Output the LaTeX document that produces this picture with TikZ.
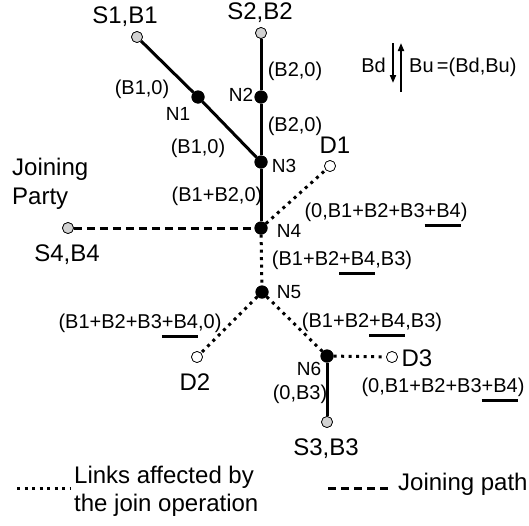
\documentclass[tikz,border=0pt]{standalone}
\usepackage{fontspec}
\setmainfont{Liberation Sans}
\usetikzlibrary{arrows.meta}
\newcommand\ulbar[1]{\setbox0\hbox{#1}\rlap{\rule[-10pt]{\wd0}{3.5pt}}\box0}
\tikzset{
  dotn/.style={circle,fill=black,inner sep=0pt,minimum size=13pt},
  srcn/.style={circle,draw,fill=gray!35,inner sep=0pt,minimum size=11pt,line width=0.7pt},
  dstn/.style={circle,draw,fill=white,inner sep=0pt,minimum size=11pt,line width=0.7pt},
  thk/.style={line width=3pt},
  dsh/.style={line width=3pt,dash pattern=on 8pt off 5pt},
  dtd/.style={line width=3pt,dash pattern=on 3pt off 4.5pt},
  lbl/.style={anchor=base,inner sep=0pt,font=\fontsize{20}{24}\selectfont},
  nlbl/.style={anchor=base,inner sep=0pt,font=\fontsize{19}{23}\selectfont},
  big/.style={anchor=base,inner sep=0pt,font=\fontsize{24}{28}\selectfont},
  arr/.style={line width=1.8pt,-{Triangle[length=8pt,width=6pt]}}
}
\begin{document}
\begin{tikzpicture}[x=1pt,y=-1pt]
\useasboundingbox[fill=white] (0,0) rectangle (529,525);
% nodes
\node[srcn] (S1) at (137,37) {};
\node[srcn] (S2) at (261,33) {};
\node[dotn] (N1) at (198,97) {};
\node[dotn] (N2) at (261,97) {};
\node[dotn] (N3) at (261,162) {};
\node[dotn] (N4) at (261,228) {};
\node[srcn] (S4) at (68,228) {};
\node[dstn] (D1) at (330,166) {};
\node[dotn] (N5) at (262,292) {};
\node[dotn] (N6) at (327,356) {};
\node[dstn] (D3) at (392,357) {};
\node[srcn] (S3) at (327,422) {};
\node[dstn] (D2) at (197,357) {};
% connectors
\draw[thk] (S1) -- (N1) -- (N3);
\draw[thk] (S2) -- (N2) -- (N3) -- (N4);
\draw[dsh] (S4) -- (N4);
\draw[dtd] (N4) -- (D1);
\draw[dtd] (N4) -- (N5);
\draw[dtd] (N5) -- (D2);
\draw[dtd] (N5) -- (N6);
\draw[dtd] (N6) -- (D3);
\draw[thk] (N6) -- (S3);
% redraw dots on top
\foreach \n in {N1,N2,N3,N4,N5,N6}{\fill (\n) circle (6.5pt);}
\foreach \n in {S1,S2,S3,S4}{\filldraw[fill=gray!35,line width=0.7pt] (\n) circle (5.5pt);}
\foreach \n in {D1,D2,D3}{\filldraw[fill=white,line width=0.7pt] (\n) circle (5.5pt);}
% labels
\node[big] (tS1) at (125,23) {S1,B1};
\node[big] (tS2) at (260,19) {S2,B2};
\node[lbl] (l1) at (142,94) {(B1,0)};
\node[nlbl] (tN1) at (178,120) {N1};
\node[lbl] (l2) at (198,153) {(B1,0)};
\node[nlbl] (tN2) at (241,101) {N2};
\node[lbl] (l3) at (295,76) {(B2,0)};
\node[lbl] (l4) at (295,131) {(B2,0)};
\node[nlbl] (tN3) at (284,172) {N3};
\node[big] (tD1) at (335,153) {D1};
\node[lbl] (l5) at (217,201) {(B1+B2,0)};
\node[big,anchor=base west] (tJ1) at (12,175) {Joining};
\node[big,anchor=base west] (tJ2) at (12,204) {Party};
\node[big] (tS4) at (67,261) {S4,B4};
\node[nlbl] (tN4) at (289,237) {N4};
\node[lbl] (l6) at (386,217) {(0,B1+B2+B3\ulbar{+B4})};
\node[lbl] (l7) at (342,265) {(B1+B2\ulbar{+B4},B3)};
\node[nlbl] (tN5) at (289,298) {N5};
\node[lbl] (l8) at (140,328) {(B1+B2+B3\ulbar{+B4},0)};
\node[big] (tD2) at (195,390) {D2};
\node[lbl] (l9) at (372,327) {(B1+B2\ulbar{+B4},B3)};
\node[big] (tD3) at (417,366) {D3};
\node[nlbl] (tN6) at (309,375) {N6};
\node[lbl] (l10) at (300,399) {(0,B3)};
\node[lbl] (l11) at (443,392) {(0,B1+B2+B3\ulbar{+B4})};
\node[big] (tS3) at (326,455) {S3,B3};
% bandwidth legend
\node[lbl,anchor=base east] (tBd) at (386,72) {Bd};
\coordinate (da) at (393,43);
\coordinate (db) at (393,83);
\coordinate (ua) at (401,92);
\coordinate (ub) at (401,43);
\draw[arr] (da) -- (db);
\draw[arr] (ua) -- (ub);
\node[lbl,anchor=base west] (tBu) at (409,72) {Bu\,=(Bd,Bu)};
% line legend
\coordinate (ldA) at (17,488);
\coordinate (ldB) at (70,488);
\draw[dtd] (ldA) -- (ldB);
\node[big,anchor=base west] (tL1) at (74,483) {Links affected by};
\node[big,anchor=base west] (tL2) at (74,511) {the join operation};
\coordinate (lsA) at (328,488);
\coordinate (lsB) at (388,488);
\draw[dsh] (lsA) -- (lsB);
\node[big,anchor=base west] (tL3) at (398,490) {Joining path};
\end{tikzpicture}
\end{document}
